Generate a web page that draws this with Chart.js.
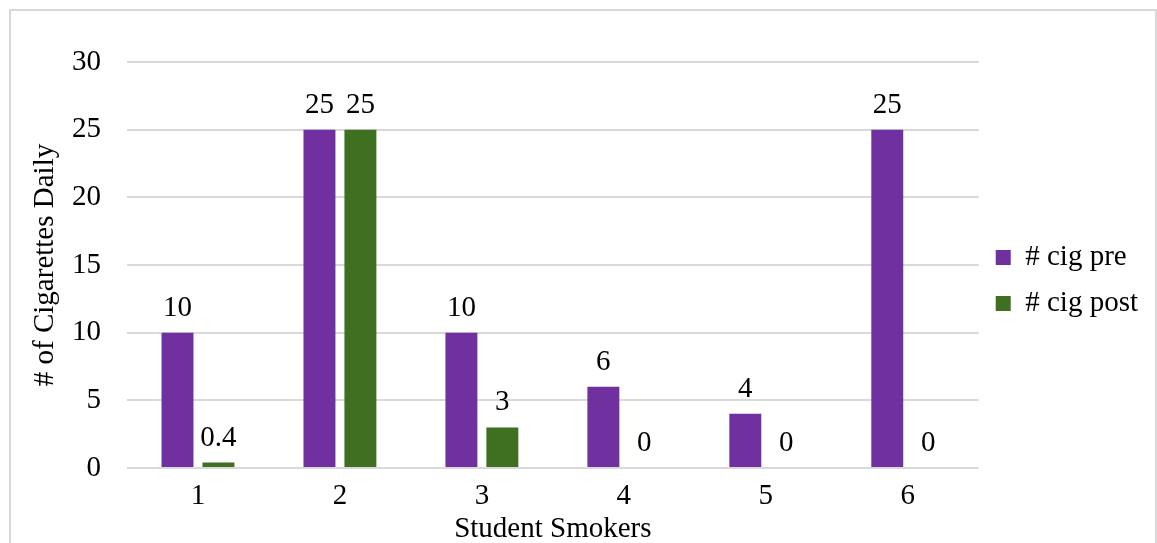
<!DOCTYPE html>
<html>
<head>
<meta charset="utf-8">
<script src="https://cdn.jsdelivr.net/npm/chart.js@4.4.1/dist/chart.umd.min.js"></script>
<style>
  html, body { margin: 0; padding: 0; background: #fff; }
  #wrap { position: relative; width: 1157px; height: 543px; overflow: hidden; }
  #frame { position: absolute; left: 9px; top: 9px; width: 1144px; height: 600px; border: 2px solid #d9d9d9; pointer-events: none; }
  canvas { position: absolute; left: 0; top: 0; }
</style>
</head>
<body>
<div id="wrap">
  <canvas id="c" width="1157" height="543"></canvas>
  <div id="frame"></div>
</div>
<script>
const categories = ['1', '2', '3', '4', '5', '6'];
const seriesNames = ['# cig pre', '# cig post'];
const cigPre = [10, 25, 10, 6, 4, 25];
const cigPost = [0.4, 25, 3, 0, 0, 0];
const yTicks = [0, 5, 10, 15, 20, 25, 30];
const dataLabels = [['10', '25', '10', '6', '4', '25'], ['0.4', '25', '3', '0', '0', '0']];

const FONT = "'Liberation Serif', 'Times New Roman', serif";
const FS = 29;

const labelPlugin = {
  id: 'valueLabels',
  afterDatasetsDraw(chart) {
    const ctx = chart.ctx;
    ctx.save();
    ctx.font = FS + 'px ' + FONT;
    ctx.fillStyle = '#000';
    ctx.textAlign = 'center';
    ctx.textBaseline = 'alphabetic';
    chart.data.datasets.forEach((ds, di) => {
      const meta = chart.getDatasetMeta(di);
      meta.data.forEach((el, i) => {
        ctx.fillText(dataLabels[di][i], el.x, el.y - 17);
      });
    });
    ctx.restore();
  }
};

new Chart(document.getElementById('c'), {
  type: 'bar',
  data: {
    labels: categories,
    datasets: [
      { label: seriesNames[0], data: cigPre, backgroundColor: '#7030A0', categoryPercentage: 0.577, barPercentage: 0.78 },
      { label: seriesNames[1], data: cigPost, backgroundColor: '#3F6F21', categoryPercentage: 0.577, barPercentage: 0.78 }
    ]
  },
  options: {
    responsive: false,
    animation: false,
    layout: { padding: { top: 62, left: 0, right: 9, bottom: 0 } },
    plugins: {
      legend: {
        position: 'right',
        align: 'start',
        title: { display: true, text: ' ', font: { size: 10 }, padding: { top: 152, bottom: 0 } },
        labels: {
          font: { family: FONT, size: FS },
          color: '#000',
          boxWidth: 15,
          boxHeight: 15,
          padding: 17
        }
      },
      tooltip: { enabled: false }
    },
    scales: {
      x: {
        grid: { display: false, drawTicks: false },
        border: { display: false },
        ticks: { font: { family: FONT, size: FS }, color: '#000', padding: 11 },
        title: { display: true, text: 'Student Smokers', font: { family: FONT, size: FS }, color: '#000', padding: { top: 0, bottom: -4 } },
        afterFit(s) { s.height = 75; }
      },
      y: {
        min: 0, max: 30,
        afterBuildTicks(s) { s.ticks = yTicks.map(v => ({ value: v })); },
        grid: { color: '#d9d9d9', lineWidth: 2, drawTicks: false },
        border: { display: false },
        ticks: { font: { family: FONT, size: FS }, color: '#000', padding: 26 },
        title: { display: true, text: '# of Cigarettes Daily', font: { family: FONT, size: FS }, color: '#000', padding: { top: 28, bottom: 0 } },
        afterFit(s) { s.width = 127; }
      }
    }
  },
  plugins: [labelPlugin]
});
</script>
</body>
</html>
